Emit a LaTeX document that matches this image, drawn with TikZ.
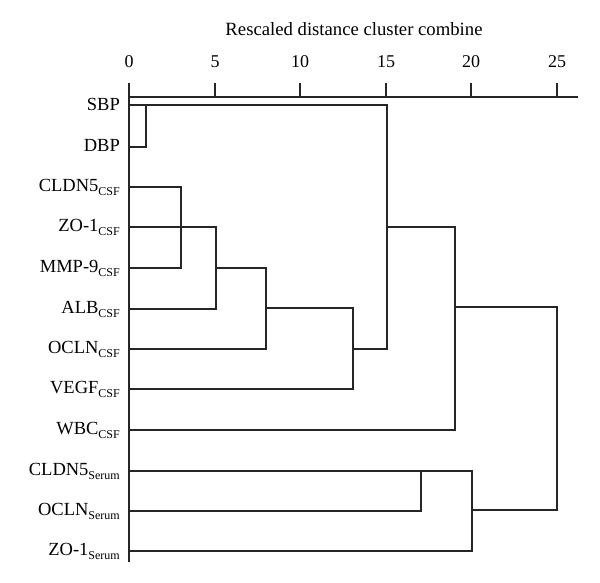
\documentclass[tikz,border=0pt]{standalone}
\usepackage{fontspec}
\setmainfont{Liberation Serif}
\begin{document}
\begin{tikzpicture}[x=1pt,y=-1pt,
  dline/.style={line width=1.3pt,draw=black!85,line join=miter},
  leaf/.style={anchor=base east,inner sep=0pt,font=\fontsize{18.5}{20}\selectfont},
  ticklab/.style={anchor=base,inner sep=0pt,font=\fontsize{18}{20}\selectfont},
  ttl/.style={anchor=base,inner sep=0pt,font=\fontsize{18.7}{20}\selectfont}]
\useasboundingbox (0,0) rectangle (600,583);
\newcommand{\sbs}[1]{\raisebox{-4.5pt}{\fontsize{12}{13}\selectfont #1}}
% title and axis
\node[ttl] (title) at (354,36) {Rescaled distance cluster combine};
\foreach \v/\x in {0/129,5/215,10/300,15/386,20/471,25/557}{
  \node[ticklab] (t\v) at (\x,68) {\v};
  \draw[dline] (\x,83) -- (\x,97);
}
\draw[dline] (129,97) -- (578,97);
\draw[dline] (129,97) -- (129,562);
% leaf labels
\node[leaf] (sbp)   at (120,111) {SBP};
\node[leaf] (dbp)   at (120,152) {DBP};
\node[leaf] (cl5c)  at (120,191) {CLDN5\sbs{CSF}};
\node[leaf] (zo1c)  at (120,231) {ZO-1\sbs{CSF}};
\node[leaf] (mmp)   at (120,272) {MMP-9\sbs{CSF}};
\node[leaf] (alb)   at (120,313) {ALB\sbs{CSF}};
\node[leaf] (oclc)  at (120,353) {OCLN\sbs{CSF}};
\node[leaf] (vegf)  at (120,393) {VEGF\sbs{CSF}};
\node[leaf] (wbc)   at (120,434) {WBC\sbs{CSF}};
\node[leaf] (cl5s)  at (120,475) {CLDN5\sbs{Serum}};
\node[leaf] (ocls)  at (120,515) {OCLN\sbs{Serum}};
\node[leaf] (zo1s)  at (120,555) {ZO-1\sbs{Serum}};
% dendrogram
\draw[dline] (129,105) -- (387,105) -- (387,349) -- (353,349);
\draw[dline] (129,147) -- (146,147) -- (146,105);
\draw[dline] (129,187) -- (181,187) -- (181,268) -- (129,268);
\draw[dline] (129,227) -- (216,227) -- (216,309) -- (129,309);
\draw[dline] (216,268) -- (266,268) -- (266,349) -- (129,349);
\draw[dline] (266,308) -- (353,308) -- (353,389) -- (129,389);
\draw[dline] (387,227) -- (455,227) -- (455,430) -- (129,430);
\draw[dline] (455,307) -- (557,307) -- (557,510) -- (472,510);
\draw[dline] (129,471) -- (472,471) -- (472,551) -- (129,551);
\draw[dline] (421,471) -- (421,511) -- (129,511);
\end{tikzpicture}
\end{document}
